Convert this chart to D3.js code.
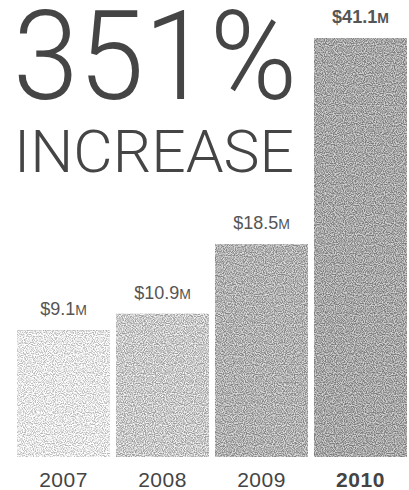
<!DOCTYPE html>
<html>
<head>
<meta charset="utf-8">
<script src="https://cdn.jsdelivr.net/npm/d3@7"></script>
<style>
  html, body { margin: 0; padding: 0; background: #fff; }
  svg { display: block; }
</style>
</head>
<body>
<svg id="chart" width="409" height="490"></svg>
<script>
// Revenue by year, in millions of dollars
const years = ["2007", "2008", "2009", "2010"];
const revenue = [9.1, 10.9, 18.5, 41.1];
const valueLabels = ["$9.1", "$10.9", "$18.5", "$41.1"];
const unitLabel = "M";
const headline = "351%";
const subhead = "INCREASE";

const svg = d3.select("#chart");

// Tone for each bar, light to dark
const tones = ["#e6e6e6", "#c8c8c8", "#b0b0b0", "#a6a6a6"];

// Grain filter: opaque fractal noise nudges the bar tone up and down
const defs = svg.append("defs");
const grain = defs.append("filter").attr("id", "grain")
  .attr("x", 0).attr("y", 0).attr("width", 1).attr("height", 1)
  .attr("color-interpolation-filters", "sRGB");
grain.append("feTurbulence").attr("type", "fractalNoise")
  .attr("baseFrequency", 0.9).attr("numOctaves", 1).attr("seed", 7).attr("result", "noise");
grain.append("feColorMatrix").attr("in", "noise").attr("type", "matrix")
  .attr("values", "3 0 0 0 -1  3 0 0 0 -1  3 0 0 0 -1  0 0 0 0 1")
  .attr("result", "gray");
grain.append("feComposite").attr("in", "SourceGraphic").attr("in2", "gray")
  .attr("operator", "arithmetic").attr("k1", 0).attr("k2", 1).attr("k3", 0.35).attr("k4", -0.175)
  .attr("result", "mix");
grain.append("feComposite").attr("in", "mix").attr("in2", "SourceGraphic").attr("operator", "in");

const x = d3.scaleBand().domain(years).range([17, 407]).paddingInner(0.06).paddingOuter(0);
const y = d3.scaleLinear().domain([-4.8, 41.1]).range([457, 38]);

const data = years.map((yr, i) => ({ yr, v: revenue[i], label: valueLabels[i], tone: tones[i], last: i === years.length - 1 }));

// Bars
svg.append("g").selectAll("rect").data(data).join("rect")
  .attr("x", d => x(d.yr))
  .attr("y", d => y(d.v))
  .attr("width", x.bandwidth())
  .attr("height", d => y(y.domain()[0]) - y(d.v))
  .attr("fill", d => d.tone)
  .attr("filter", "url(#grain)");

// Value labels with small-cap unit
const sans = "'Helvetica Neue', Helvetica, 'Liberation Sans', Arial, sans-serif";
const vl = svg.append("g").selectAll("text").data(data).join("text")
  .attr("x", d => x(d.yr) + x.bandwidth() / 2)
  .attr("y", d => y(d.v) - 15)
  .attr("text-anchor", "middle")
  .attr("font-family", sans)
  .attr("font-size", 18)
  .attr("font-weight", d => d.last ? 700 : 400)
  .attr("fill", "#555");
vl.append("tspan").text(d => d.label);
vl.append("tspan").attr("font-size", 14).text(unitLabel);

// Year axis
const axis = svg.append("g").attr("transform", "translate(0,487)")
  .call(d3.axisBottom(x).tickSize(0).tickPadding(0));
axis.select(".domain").remove();
axis.selectAll("text")
  .attr("dy", 0)
  .attr("font-family", sans)
  .attr("font-size", 21)
  .attr("fill", "#444")
  .attr("letter-spacing", 0.5)
  .attr("font-weight", d => d === years[years.length - 1] ? 700 : 400);

// Headline: light type stretched to a set width
const light = "'Helvetica Neue', Roboto, Lato, 'Liberation Sans', sans-serif";
function headlineText(txt, x0, base, width, size) {
  return svg.append("text").attr("x", x0).attr("y", base)
    .attr("font-family", light).attr("font-weight", 300)
    .attr("font-size", size)
    .attr("textLength", width).attr("lengthAdjust", "spacingAndGlyphs")
    .attr("fill", "#454545").text(txt);
}
headlineText(headline, 13, 99, 284, 124);
headlineText(subhead, 14, 172, 280, 59);
</script>
</body>
</html>
